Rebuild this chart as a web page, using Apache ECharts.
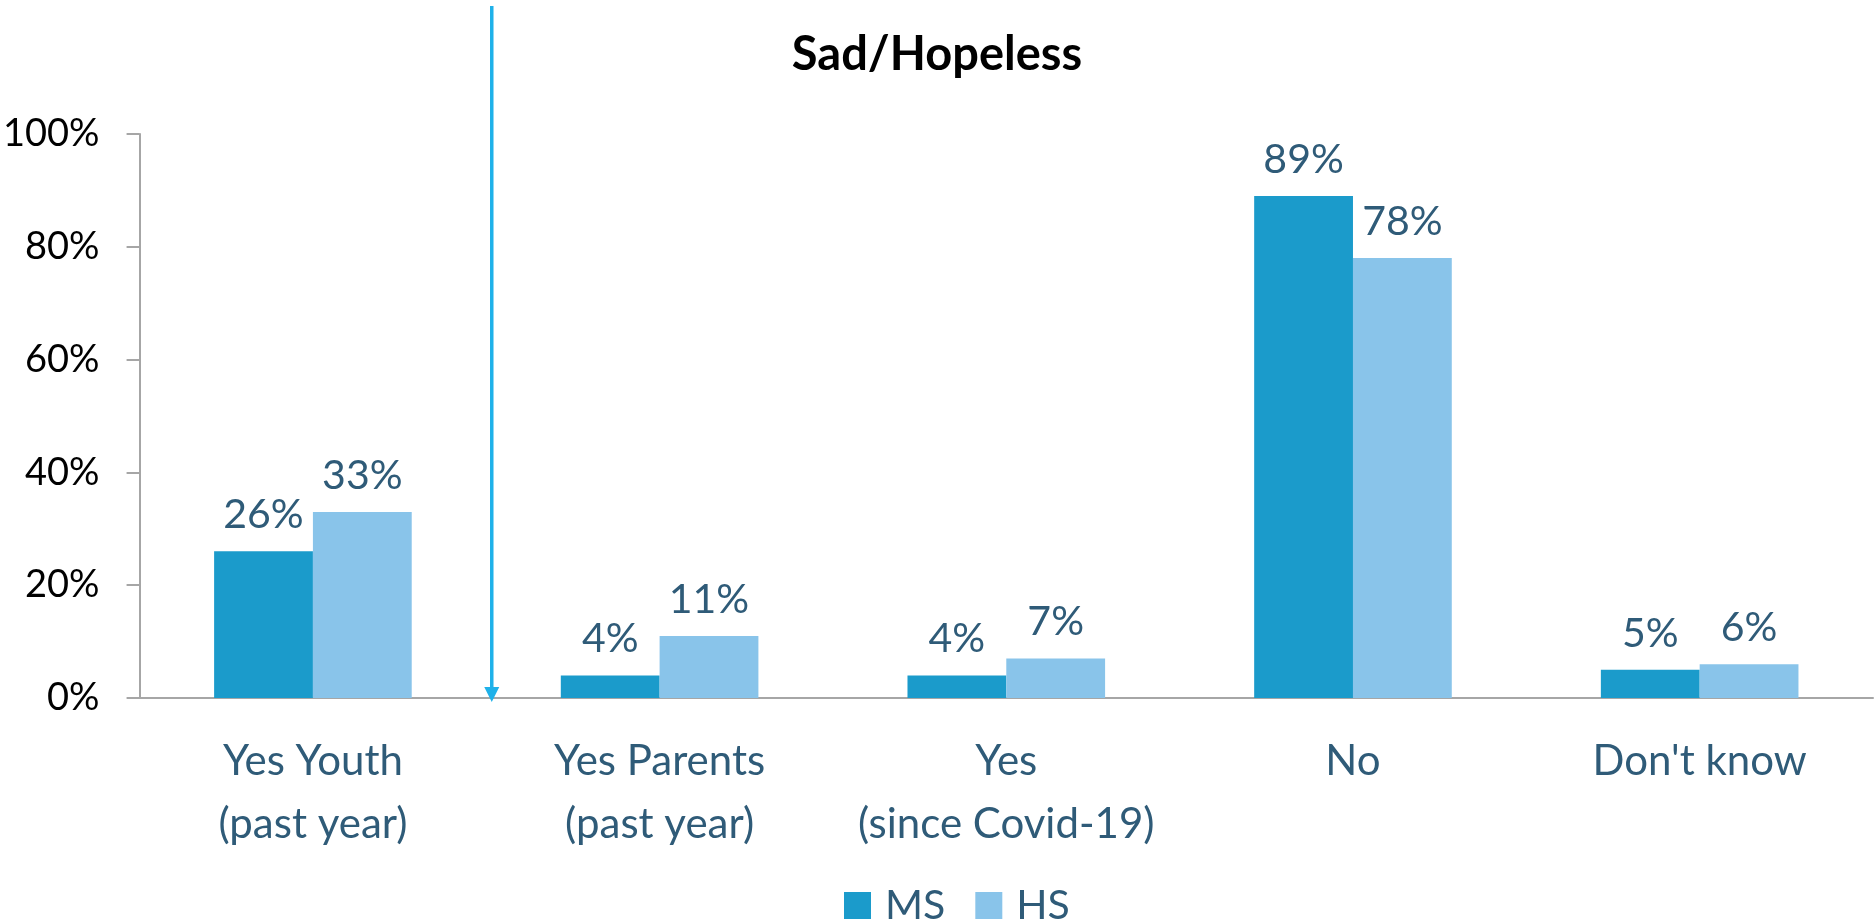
<!DOCTYPE html>
<html>
<head>
<meta charset="utf-8">
<script src="https://cdn.jsdelivr.net/npm/echarts@6/dist/echarts.min.js"></script>
<style>
html,body{margin:0;padding:0;background:#fff;}
#chart{width:1874px;height:922px;}
</style>
</head>
<body>
<div id="chart"></div>
<script>
const categories = ['Yes Youth\n(past year)', 'Yes Parents\n(past year)', 'Yes\n(since Covid-19)', 'No', "Don't know"];
const msValues = [26, 4, 4, 89, 5];
const hsValues = [33, 11, 7, 78, 6];
const yTicks = [0, 20, 40, 60, 80, 100];
const titleText = 'Sad/Hopeless';

const FONT = 'Lato, "Open Sans", sans-serif';
const LABEL_COLOR = '#2F5B78';
const MS_COLOR = '#1B9BCB';
const HS_COLOR = '#89C4EA';

const chart = echarts.init(document.getElementById('chart'));
const labelCfg = {
  show: true, position: 'top', distance: 16,
  formatter: p => p.value + '%',
  color: LABEL_COLOR, fontSize: 41, fontFamily: FONT
};
chart.setOption({
  animation: false,
  backgroundColor: '#ffffff',
  textStyle: { fontFamily: FONT },
  title: {
    text: titleText, left: 'center', top: 26,
    textStyle: { fontSize: 47, fontWeight: 'bold', color: '#000', fontFamily: FONT }
  },
  legend: {
    top: 880, left: 839,
    itemWidth: 27, itemHeight: 27, itemGap: 30,
    icon: 'rect',
    textStyle: { fontSize: 41, lineHeight: 41, color: LABEL_COLOR, fontFamily: FONT, padding: [0, 0, 0, 9] },
    data: ['MS', 'HS']
  },
  grid: { left: 134, right: 1, top: 134, bottom: 224, containLabel: false },
  xAxis: {
    type: 'category', data: categories,
    axisTick: { show: false },
    axisLine: { lineStyle: { color: '#A6A6A6', width: 2 } },
    axisLabel: { color: LABEL_COLOR, fontSize: 42, lineHeight: 63, margin: 32, fontFamily: FONT, interval: 0 }
  },
  yAxis: {
    type: 'value', min: 0, max: 100, interval: 20,
    splitLine: { show: false },
    axisLine: { show: true, lineStyle: { color: '#A6A6A6', width: 2 } },
    axisTick: { show: true, length: 13, lineStyle: { color: '#A6A6A6', width: 2 } },
    axisLabel: { formatter: v => yTicks.includes(v) ? v + '%' : '', color: '#000', fontSize: 38, margin: 40, fontFamily: FONT }
  },
  series: [
    { name: 'MS', type: 'bar', data: msValues, barGap: '0%', barCategoryGap: '43%',
      itemStyle: { color: MS_COLOR }, label: labelCfg },
    { name: 'HS', type: 'bar', data: hsValues, barGap: '0%', barCategoryGap: '43%',
      itemStyle: { color: HS_COLOR }, label: labelCfg }
  ]
});

function drawArrow() {
  const x0 = chart.convertToPixel({ xAxisIndex: 0 }, 0);
  const x1 = chart.convertToPixel({ xAxisIndex: 0 }, 1);
  const yBase = chart.convertToPixel({ yAxisIndex: 0 }, 0);
  const x = (x0 + x1) / 2 + 5.5;
  chart.setOption({
    graphic: [
      { type: 'line', shape: { x1: x, y1: 6, x2: x, y2: yBase - 10 },
        style: { stroke: '#1FB1E9', lineWidth: 3.5 }, z: 100 },
      { type: 'polygon', shape: { points: [[x - 7.5, yBase - 11], [x + 7.5, yBase - 11], [x, yBase + 4]] },
        style: { fill: '#1FB1E9' }, z: 100 }
    ]
  });
}
drawArrow();
</script>
</body>
</html>
